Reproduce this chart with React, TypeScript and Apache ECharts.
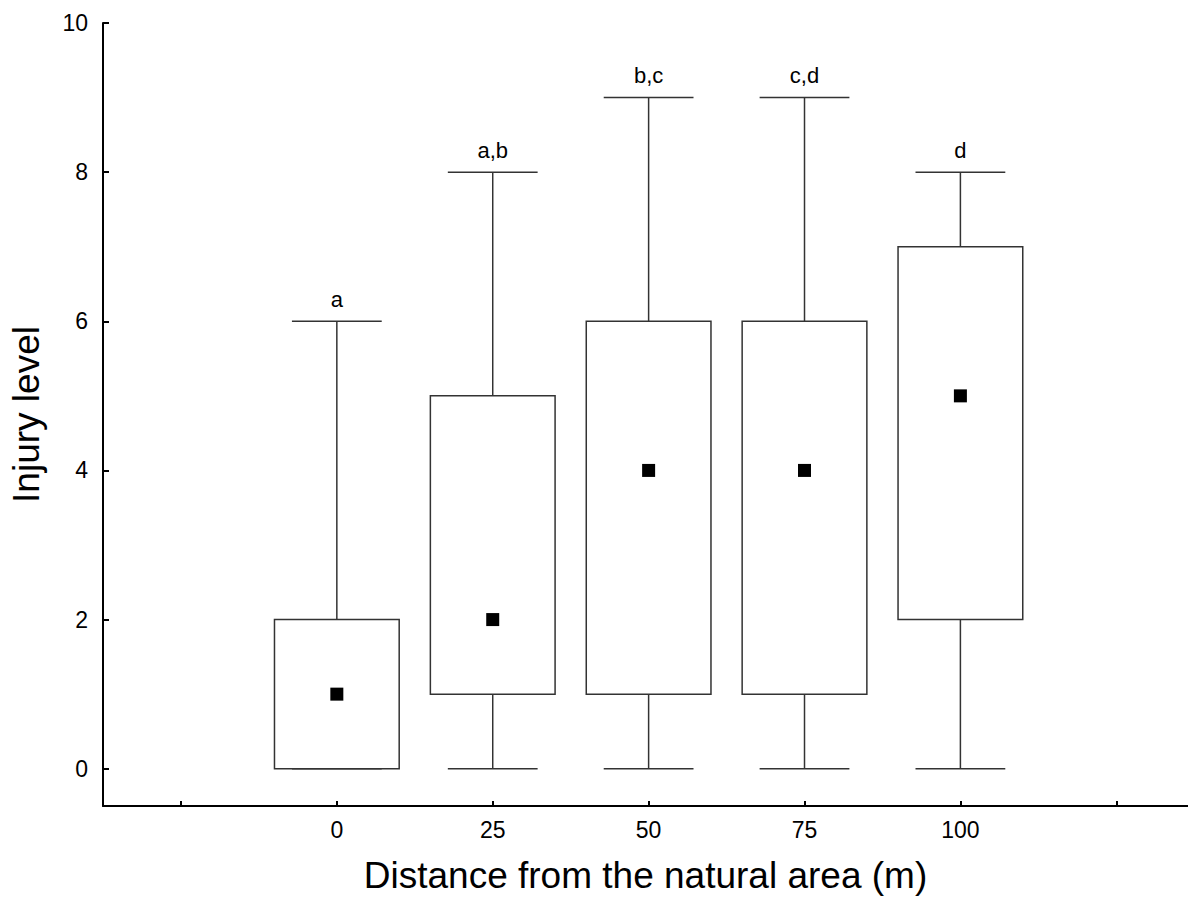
import React, { useEffect, useRef } from "react";
import * as echarts from "echarts";

const distances = [0, 25, 50, 75, 100];
const minVals = [0, 0, 0, 0, 0];
const q1Vals = [0, 1, 1, 1, 2];
const medVals = [1, 2, 4, 4, 5];
const q3Vals = [2, 5, 6, 6, 7];
const maxVals = [6, 8, 9, 9, 8];
const groupLabels = ["a", "a,b", "b,c", "c,d", "d"];
const xTickValues = [-25, 0, 25, 50, 75, 100, 125];
const xLabelValues = [0, 25, 50, 75, 100];
const yTickValues = [0, 2, 4, 6, 8, 10];

const FONT = "'Liberation Sans', Arial, sans-serif";

export default function App() {
  const ref = useRef<HTMLDivElement>(null);
  useEffect(() => {
    if (!ref.current) return;
    const chart = echarts.init(ref.current, null, { renderer: "svg" });
    const data = distances.map((d, i) => [d, minVals[i], q1Vals[i], medVals[i], q3Vals[i], maxVals[i], i]);
    const lineStyle = { stroke: "#333", lineWidth: 1.5, fill: "none" };
    chart.setOption({
      animation: false,
      backgroundColor: "#fff",
      grid: { left: 101, right: 0, top: 23, bottom: 96 },
      xAxis: {
        type: "value",
        min: -37.5,
        max: 136.5,
        name: "Distance from the natural area (m)",
        nameLocation: "middle",
        nameGap: 51,
        nameTextStyle: { fontSize: 37, color: "#000", fontFamily: FONT },
        axisLine: { show: true, onZero: false, lineStyle: { color: "#000", width: 2 } },
        axisTick: { show: true, inside: true, length: 5, customValues: xTickValues, lineStyle: { color: "#000", width: 2 } },
        axisLabel: { customValues: xLabelValues, fontSize: 23, color: "#000", fontFamily: FONT, margin: 12 },
        splitLine: { show: false },
      },
      yAxis: {
        type: "value",
        min: -0.5,
        max: 10,
        name: "Injury level",
        nameLocation: "middle",
        nameGap: 58,
        nameTextStyle: { fontSize: 37, color: "#000", fontFamily: FONT },
        axisLine: { show: true, onZero: false, lineStyle: { color: "#000", width: 2 } },
        axisTick: { show: true, inside: true, length: 6, customValues: yTickValues, lineStyle: { color: "#000", width: 2 } },
        axisLabel: { customValues: yTickValues, fontSize: 23, color: "#000", fontFamily: FONT, margin: 15 },
        splitLine: { show: false },
      },
      series: [
        {
          type: "custom",
          data,
          renderItem: (params: any, api: any) => {
            const x = api.value(0);
            const pMin = api.coord([x, api.value(1)]);
            const pQ1 = api.coord([x, api.value(2)]);
            const pMed = api.coord([x, api.value(3)]);
            const pQ3 = api.coord([x, api.value(4)]);
            const pMax = api.coord([x, api.value(5)]);
            const halfBox = api.size([10, 0])[0];
            const halfCap = api.size([7.2, 0])[0];
            const idx = api.value(6);
            const cx = pMed[0];
            return {
              type: "group",
              children: [
                { type: "line", shape: { x1: cx, y1: pQ3[1], x2: cx, y2: pMax[1] }, style: lineStyle },
                { type: "line", shape: { x1: cx, y1: pQ1[1], x2: cx, y2: pMin[1] }, style: lineStyle },
                { type: "line", shape: { x1: cx - halfCap, y1: pMax[1], x2: cx + halfCap, y2: pMax[1] }, style: lineStyle },
                { type: "line", shape: { x1: cx - halfCap, y1: pMin[1], x2: cx + halfCap, y2: pMin[1] }, style: lineStyle },
                {
                  type: "rect",
                  shape: { x: cx - halfBox, y: pQ3[1], width: halfBox * 2, height: pQ1[1] - pQ3[1] },
                  style: { stroke: "#333", lineWidth: 1.5, fill: "#fff" },
                },
                { type: "rect", shape: { x: cx - 6.5, y: pMed[1] - 6.5, width: 13, height: 13 }, style: { fill: "#000" } },
                {
                  type: "text",
                  x: cx,
                  y: pMax[1] - 22,
                  style: {
                    text: groupLabels[idx],
                    fontSize: 22,
                    fontFamily: FONT,
                    fill: "#000",
                    align: "center",
                    verticalAlign: "middle",
                  },
                },
              ],
            };
          },
        },
      ],
    });
    return () => chart.dispose();
  }, []);
  return <div ref={ref} style={{ position: "absolute", left: 0, top: 0, width: 1188, height: 902 }} />;
}
